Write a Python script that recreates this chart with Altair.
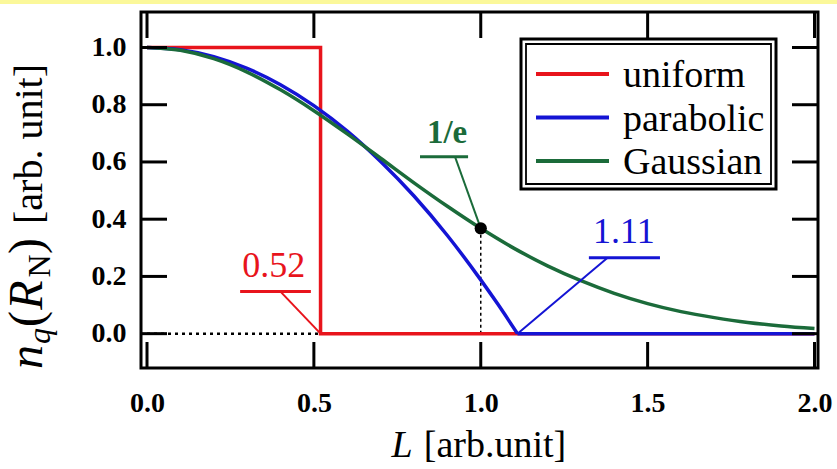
import altair as alt
import pandas as pd

# ---------------- data ----------------
series_names = ["uniform", "parabolic", "Gaussian"]
series_colors = ["#E8141C", "#1414D4", "#1B6B3A"]

L_uniform = [0.0, 0.52, 0.52, 2.0]
n_uniform = [1.0, 1.0, 0.0, 0.0]

L_parabolic = [0.0, 0.1, 0.2, 0.3, 0.4, 0.5, 0.6, 0.7, 0.8, 0.9, 1.0, 1.05, 1.11, 2.0]
n_parabolic = [1.000, 0.992, 0.968, 0.927, 0.870, 0.797, 0.708, 0.602, 0.481, 0.343,
               0.188, 0.105, 0.0, 0.0]

L_gaussian = [0.0, 0.1, 0.2, 0.3, 0.4, 0.5, 0.6, 0.7, 0.8, 0.9, 1.0,
              1.1, 1.2, 1.3, 1.4, 1.5, 1.6, 1.7, 1.8, 1.9, 2.0]
n_gaussian = [1.000, 0.990, 0.961, 0.914, 0.852, 0.779, 0.698, 0.613, 0.527, 0.445, 0.368,
              0.298, 0.237, 0.185, 0.141, 0.105, 0.077, 0.056, 0.039, 0.027, 0.018]

x_tick_values = [0.0, 0.5, 1.0, 1.5, 2.0]
y_tick_values = [0.0, 0.2, 0.4, 0.6, 0.8, 1.0]

uniform_edge = 0.52
parabolic_edge = 1.11
marker_L = [1.0]
marker_n = [0.368]

annotation_labels = ["0.52", "1.11", "1/e"]

# ---------------- layout ----------------
W, H = 677, 356
PAD = {"left": 141, "top": 12, "right": 19, "bottom": 101}
SERIF = "Liberation Serif"

xscale = alt.Scale(domain=[-0.018, 2.0105], nice=False, zero=False)
yscale = alt.Scale(domain=[-0.12, 1.124], nice=False, zero=False)

x_axis = alt.Axis(
    values=x_tick_values, format=".1f", title=None, grid=False, domain=False,
    ticks=False, tickSize=0, labelPadding=21, labelFont=SERIF, labelFontWeight="bold",
    labelFontSize=28, labelColor="black", labelFlush=False, labelOverlap=False,
    labelBound=False)
y_axis = alt.Axis(
    values=y_tick_values, format=".1f", title=None, grid=False, domain=False,
    ticks=False, tickSize=0, labelPadding=15, labelFont=SERIF, labelFontWeight="bold",
    labelFontSize=28, labelColor="black", labelOverlap=False, labelBound=False)


def X(field="L"):
    return alt.X(field, type="quantitative", scale=xscale, axis=x_axis)


def Y(field="n"):
    return alt.Y(field, type="quantitative", scale=yscale, axis=y_axis)


one = pd.DataFrame({"a": [0]})
layers = []

# yellow strip on top of the picture
layers.append(alt.Chart(one).mark_rect(color="#FBF89A").encode(
    x=alt.value(-PAD["left"]), x2=alt.value(W + PAD["right"]),
    y=alt.value(-PAD["top"]), y2=alt.value(-8)))

# dotted guide lines
layers.append(alt.Chart(pd.DataFrame({"L": [0.0, uniform_edge], "n": [0.0, 0.0]}))
              .mark_line(color="black", strokeWidth=2.5, strokeDash=[3, 4])
              .encode(x=X(), y=Y()))
layers.append(alt.Chart(pd.DataFrame({"L": [marker_L[0], marker_L[0]], "n": [0.0, marker_n[0]]}))
              .mark_line(color="black", strokeWidth=1.5, strokeDash=[3, 3])
              .encode(x=X(), y=Y()))

# uniform
uni = pd.DataFrame({"L": L_uniform, "n": n_uniform, "i": list(range(len(L_uniform)))})
layers.append(alt.Chart(uni).mark_line(color=series_colors[0], strokeWidth=3.5)
              .encode(x=X(), y=Y(), order="i:Q"))

# parabolic (curved part + flat tail)
par = pd.DataFrame({"L": L_parabolic, "n": n_parabolic})
layers.append(alt.Chart(par[par.L <= parabolic_edge]).mark_line(
    color=series_colors[1], strokeWidth=3.5, interpolate="monotone").encode(x=X(), y=Y()))
layers.append(alt.Chart(par[par.L >= parabolic_edge]).mark_line(
    color=series_colors[1], strokeWidth=3.5).encode(x=X(), y=Y()))

# Gaussian
gau = pd.DataFrame({"L": L_gaussian, "n": n_gaussian})
layers.append(alt.Chart(gau).mark_line(color=series_colors[2], strokeWidth=3.5,
                                       interpolate="monotone").encode(x=X(), y=Y()))

# annotations: underline, leader, label
ann_under = pd.DataFrame({
    "x1": [0.279, 1.324, 0.818], "x2": [0.491, 1.537, 0.962], "y": [0.147, 0.265, 0.618],
    "c": annotation_labels})
ann_lead = pd.DataFrame({
    "x1": [0.40, 1.38, 0.923], "y1": [0.147, 0.265, 0.618],
    "x2": [uniform_edge, parabolic_edge, marker_L[0]], "y2": [0.0, 0.0, marker_n[0]],
    "c": annotation_labels})
ann_text = pd.DataFrame({"L": [0.38, 1.429, 0.899], "n": [0.199, 0.318, 0.667],
                         "c": annotation_labels})
ann_color = alt.Color("c:N", scale=alt.Scale(domain=annotation_labels, range=series_colors),
                      legend=None)

layers.append(alt.Chart(ann_under).mark_rule(strokeWidth=3).encode(
    x=X("x1"), x2="x2:Q", y=Y("y"), color=ann_color))
layers.append(alt.Chart(ann_lead).mark_rule(strokeWidth=2).encode(
    x=X("x1"), x2="x2:Q", y=Y("y1"), y2="y2:Q", color=ann_color))
layers.append(alt.Chart(ann_text.iloc[:2]).mark_text(
    font=SERIF, fontSize=36, align="center", baseline="alphabetic").encode(
    x=X(), y=Y(), text="c:N", color=ann_color))
layers.append(alt.Chart(ann_text.iloc[2:]).mark_text(
    font=SERIF, fontSize=33, fontWeight="bold", align="center", baseline="alphabetic").encode(
    x=X(), y=Y(), text="c:N", color=ann_color))

# marker dot
layers.append(alt.Chart(pd.DataFrame({"L": marker_L, "n": marker_n})).mark_point(
    filled=True, color="black", size=150, opacity=1).encode(x=X(), y=Y()))

# inward ticks on all four sides
TK = 26
ydf = pd.DataFrame({"v": y_tick_values})
xdf = pd.DataFrame({"v": x_tick_values})
layers.append(alt.Chart(ydf).mark_rule(color="black", strokeWidth=3).encode(
    y=Y("v"), x=alt.value(0), x2=alt.value(TK)))
layers.append(alt.Chart(ydf).mark_rule(color="black", strokeWidth=3).encode(
    y=Y("v"), x=alt.value(W - TK), x2=alt.value(W)))
layers.append(alt.Chart(xdf).mark_rule(color="black", strokeWidth=3).encode(
    x=X("v"), y=alt.value(H - TK), y2=alt.value(H)))
layers.append(alt.Chart(xdf).mark_rule(color="black", strokeWidth=3).encode(
    x=X("v"), y=alt.value(0), y2=alt.value(TK)))

# legend box (double border)
layers.append(alt.Chart(one).mark_rect(fill="white", stroke="black", strokeWidth=3).encode(
    x=alt.value(380), x2=alt.value(635), y=alt.value(27), y2=alt.value(177)))
layers.append(alt.Chart(one).mark_rect(fill="white", stroke="black", strokeWidth=1.8).encode(
    x=alt.value(385), x2=alt.value(630), y=alt.value(32), y2=alt.value(172)))
for i, (name, col) in enumerate(zip(series_names, series_colors)):
    ly = 62 + i * 43.5
    layers.append(alt.Chart(one).mark_rule(color=col, strokeWidth=4).encode(
        x=alt.value(395), x2=alt.value(468), y=alt.value(ly)))
    layers.append(alt.Chart(pd.DataFrame({"t": [name]})).mark_text(
        font=SERIF, fontSize=38, align="left", baseline="alphabetic", color="black").encode(
        x=alt.value(482), y=alt.value(ly + 13), text="t:N"))


# axis titles built from pieces
def piece(text, x, y, size, style="normal", angle=0, align="center"):
    return alt.Chart(pd.DataFrame({"t": [text]})).mark_text(
        font=SERIF, fontSize=size, fontStyle=style, angle=angle, align=align,
        baseline="alphabetic", color="black").encode(
        x=alt.value(x), y=alt.value(y), text="t:N")


# x title: L [arb.unit]
layers.append(piece("L", 261, 445, 38, "italic"))
layers.append(piece("[arb.unit]", 354, 445, 38))

# y title: n_q(R_N) [arb. unit]  (rotated)
MB, SB = -99, -91
layers.append(piece("n", MB, 345, 48, "italic", 270))
layers.append(piece("q", SB, 324, 32, "italic", 270))
layers.append(piece("(", MB, 307, 48, "normal", 270))
layers.append(piece("R", MB, 283, 48, "italic", 270))
layers.append(piece("N", SB, 254, 32, "normal", 270))
layers.append(piece(")", MB, 234, 48, "normal", 270))
layers.append(piece("[arb. unit]", MB, 132, 40, "normal", 270))

chart = alt.layer(*layers).properties(
    width=W, height=H, padding=PAD,
    autosize=alt.AutoSizeParams(type="none"),
    background="white",
).configure_view(stroke="black", strokeWidth=3)

chart.save("out.html", embed_options={"renderer": "svg", "actions": False})
